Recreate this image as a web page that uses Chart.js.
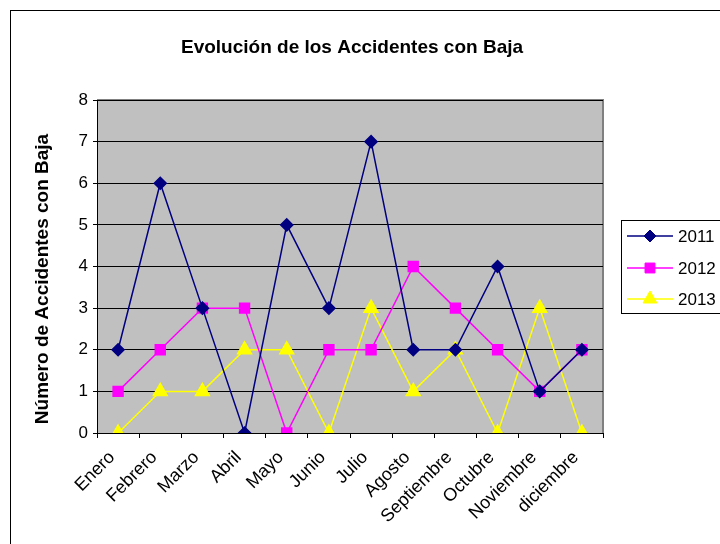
<!DOCTYPE html>
<html>
<head>
<meta charset="utf-8">
<script src="https://cdn.jsdelivr.net/npm/chart.js@4.4.1/dist/chart.umd.min.js"></script>
<style>
    html, body { margin: 0; padding: 0; background: #fff; }
    #wrap { width: 720px; height: 544px; position: relative; }
</style>
</head>
<body>
<div id="wrap"><canvas id="accidentes_chart" width="720" height="544"></canvas></div>
<script>
const meses = ["Enero", "Febrero", "Marzo", "Abril", "Mayo", "Junio", "Julio", "Agosto", "Septiembre", "Octubre", "Noviembre", "diciembre"];
const valores2011 = [2, 6, 3, 0, 5, 3, 7, 2, 2, 4, 1, 2];
const valores2012 = [1, 2, 3, 3, 0, 2, 2, 4, 3, 2, 1, 2];
const valores2013 = [0, 1, 1, 2, 2, 0, 3, 1, 2, 0, 3, 0];
const titulo = "Evolución de los Accidentes con Baja";
const tituloEjeY = "Número de Accidentes con Baja";

const fuente = "'Liberation Sans', Arial, sans-serif";

// fondo gris, marco, titulos y leyenda estilo Excel
const excelPlugin = {
    id: "excelLook",
    beforeDraw(chart) {
        const ctx = chart.ctx;
        const a = chart.chartArea;
        ctx.save();
        ctx.fillStyle = "#fff";
        ctx.fillRect(0, 0, chart.width, chart.height);
        // marco exterior
        ctx.strokeStyle = "#000";
        ctx.lineWidth = 1;
        ctx.strokeRect(10.5, 10.5, 740, 560);
        // area de trazado
        ctx.fillStyle = "#c0c0c0";
        ctx.fillRect(a.left, a.top, a.right - a.left, a.bottom - a.top);
        ctx.strokeStyle = "#808080";
        ctx.lineWidth = 2;
        ctx.beginPath();
        ctx.moveTo(a.left, a.top);
        ctx.lineTo(a.right, a.top);
        ctx.lineTo(a.right, a.bottom);
        ctx.stroke();
        ctx.restore();
    },
    afterDraw(chart) {
        const ctx = chart.ctx;
        ctx.save();
        // titulo
        ctx.fillStyle = "#000";
        ctx.font = "bold 19px " + fuente;
        ctx.textAlign = "center";
        ctx.textBaseline = "middle";
        ctx.fillText(titulo, 352, 48);
        // titulo eje Y
        ctx.save();
        ctx.translate(43, 279);
        ctx.rotate(-Math.PI / 2);
        ctx.fillText(tituloEjeY, 0, 0);
        ctx.restore();
        // leyenda
        ctx.strokeStyle = "#000";
        ctx.lineWidth = 1;
        ctx.strokeRect(621.5, 220.5, 120, 93);
        const ys = [236, 268, 299];
        chart.data.datasets.forEach((ds, i) => {
            const y = ys[i];
            ctx.strokeStyle = ds.borderColor;
            ctx.fillStyle = ds.backgroundColor;
            ctx.lineWidth = ds.borderWidth;
            ctx.beginPath();
            ctx.moveTo(627, y);
            ctx.lineTo(673, y);
            ctx.stroke();
            ctx.lineWidth = 1;
            Chart.helpers.drawPoint(ctx, {
                pointStyle: ds.pointStyle,
                radius: ds.pointRadius,
                rotation: 0,
                borderWidth: 1
            }, 650, y);
            ctx.fillStyle = "#000";
            ctx.font = "17px " + fuente;
            ctx.textAlign = "left";
            ctx.fillText(ds.label, 678, y + 1);
        });
        ctx.restore();
    }
};

function serie(label, data, color, estilo, radio) {
    return {
        label: label,
        data: data,
        borderColor: color,
        backgroundColor: color,
        pointBackgroundColor: color,
        pointBorderColor: color,
        borderWidth: 1.5,
        pointStyle: estilo,
        pointRadius: radio,
        pointHoverRadius: radio,
        tension: 0,
        fill: false
    };
}

const accidentes_chart = document.getElementById("accidentes_chart");
new Chart(accidentes_chart, {
    type: "line",
    data: {
        labels: meses,
        datasets: [
            serie("2011", valores2011, "#000080", "rectRot", 6),
            serie("2012", valores2012, "#ff00ff", "rect", 7),
            serie("2013", valores2013, "#ffff00", "triangle", 8)
        ]
    },
    options: {
        responsive: false,
        animation: false,
        devicePixelRatio: 1,
        layout: {
            padding: { left: 10, right: 117, top: 100, bottom: 0 }
        },
        plugins: {
            legend: { display: false },
            title: { display: false },
            tooltip: { enabled: false }
        },
        scales: {
            x: {
                offset: true,
                grid: {
                    offset: true,
                    drawOnChartArea: false,
                    drawTicks: true,
                    tickLength: 5,
                    color: "#000"
                },
                border: { color: "#000", width: 1 },
                ticks: {
                    color: "#000",
                    font: { family: fuente, size: 18 },
                    minRotation: 45,
                    maxRotation: 45,
                    autoSkip: false,
                    padding: 9,
                    labelOffset: -6
                },
                afterFit(scale) {
                    scale.height = 111;
                }
            },
            y: {
                min: 0,
                max: 8,
                grid: {
                    color: "#000",
                    lineWidth: 1,
                    tickLength: 4
                },
                border: { color: "#000", width: 1 },
                ticks: {
                    stepSize: 1,
                    color: "#000",
                    font: { family: fuente, size: 17 },
                    padding: 5
                },
                afterFit(scale) {
                    scale.width = 87;
                }
            }
        }
    },
    plugins: [excelPlugin]
});
</script>
</body>
</html>
